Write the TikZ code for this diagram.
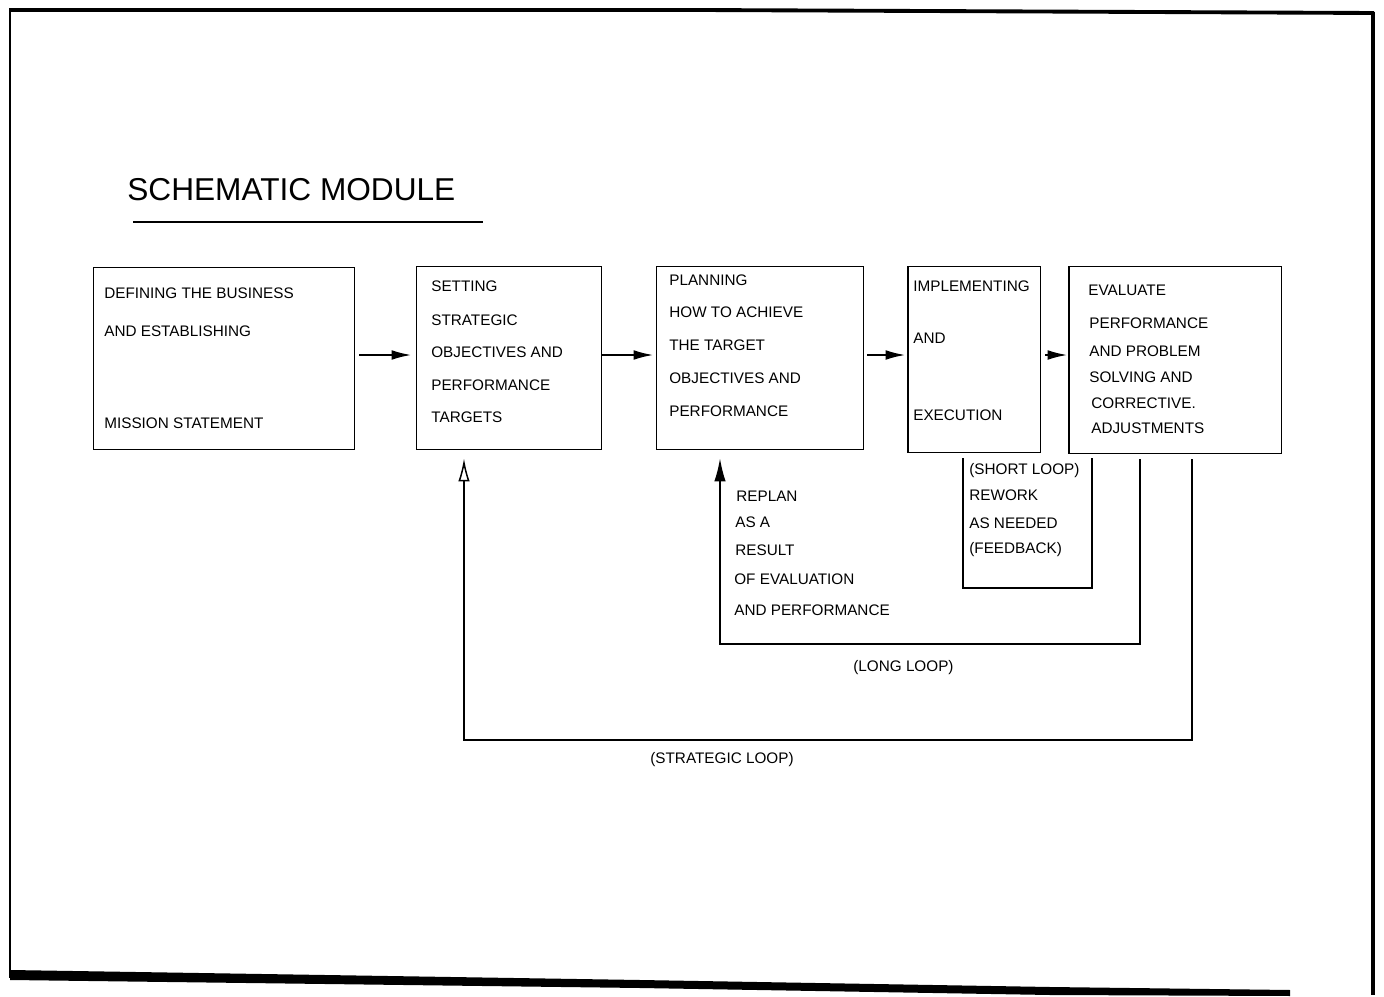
\documentclass[tikz,border=0pt]{standalone}
\usepackage{fontspec}
\setmainfont{Liberation Sans}
\usetikzlibrary{arrows.meta}
\begin{document}
\begin{tikzpicture}[x=0.02cm,y=-0.02cm,
  box/.style={draw,line width=0.85pt,inner sep=0pt,anchor=north west},
  lbl/.style={anchor=base west,inner sep=0pt,font=\fontsize{8.7}{10}\selectfont},
  ttl/.style={anchor=base west,inner sep=0pt,font=\fontsize{18}{20}\selectfont},
  wire/.style={line width=0.85pt},
  fwd/.style={wire,-{Latex[length=11pt,width=5.5pt]}},
  back/.style={wire,-{Latex[length=13pt,width=6.5pt]}},
  backopen/.style={wire,-{Latex[open,length=13pt,width=6.5pt]}},
]
\useasboundingbox (0,0) rectangle (1384,997);

% page frame
\draw[line width=2.2pt] (9,10) -- (700,10) -- (1374,13);
\draw[line width=1.5pt] (10,10) -- (10,978);
\draw[line width=1.8pt] (1373,12) -- (1373,995);
\fill (10,970) -- (640,980) -- (1050,987) -- (1290,990) -- (1290,996)
      -- (1050,995) -- (640,988) -- (10,980) -- cycle;

% title
\node[ttl] (title) at (127,200) {SCHEMATIC MODULE};
\draw[line width=0.7pt] (133,222) -- (483,222);

% process boxes
\node[box,minimum width=5.22cm,minimum height=3.64cm] (b1) at (93,267) {};
\node[box,minimum width=3.70cm,minimum height=3.66cm] (b2) at (416,266) {};
\node[box,minimum width=4.14cm,minimum height=3.66cm] (b3) at (656,266) {};
\node[box,minimum width=2.66cm,minimum height=3.72cm] (b4) at (907,266) {};
\node[box,minimum width=4.26cm,minimum height=3.74cm] (b5) at (1068,266) {};

% box texts
\node[lbl] (t1a) at (104,298) {DEFINING THE BUSINESS};
\node[lbl] (t1b) at (104,337) {AND ESTABLISHING};
\node[lbl] (t1c) at (104,428) {MISSION STATEMENT};

\node[lbl] (t2a) at (431,292) {SETTING};
\node[lbl] (t2b) at (431,325) {STRATEGIC};
\node[lbl] (t2c) at (431,357) {OBJECTIVES AND};
\node[lbl] (t2d) at (431,390) {PERFORMANCE};
\node[lbl] (t2e) at (431,422) {TARGETS};

\node[lbl] (t3a) at (669,285) {PLANNING};
\node[lbl] (t3b) at (669,317) {HOW TO ACHIEVE};
\node[lbl] (t3c) at (669,350) {THE TARGET};
\node[lbl] (t3d) at (669,383) {OBJECTIVES AND};
\node[lbl] (t3e) at (669,416) {PERFORMANCE};

\node[lbl] (t4a) at (913,292) {IMPLEMENTING};
\node[lbl] (t4b) at (913,343) {AND};
\node[lbl] (t4c) at (913,420) {EXECUTION};

\node[lbl] (t5a) at (1088,295.5) {EVALUATE};
\node[lbl] (t5b) at (1089,328) {PERFORMANCE};
\node[lbl] (t5c) at (1089,356.5) {AND PROBLEM};
\node[lbl] (t5d) at (1089,382) {SOLVING AND};
\node[lbl] (t5e) at (1091,408) {CORRECTIVE.};
\node[lbl] (t5f) at (1091,433) {ADJUSTMENTS};

% forward flow
\draw[fwd,shorten <=0.08cm,shorten >=0.1cm] (b1.east |- 0,355) -- (b2.west |- 0,355);
\draw[fwd,shorten >=0.06cm] (b2.east |- 0,355) -- (b3.west |- 0,355);
\draw[fwd,shorten <=0.06cm,shorten >=0.04cm] (b3.east |- 0,355) -- (b4.west |- 0,355);
\draw[fwd,shorten <=0.08cm,shorten >=0.02cm] (b4.east |- 0,355) -- (b5.west |- 0,355);

% short loop
\draw[wire] (963,458) -- (963,588) -- (1092,588) -- (1092,458);
\node[lbl] (s1) at (969,474.5) {(SHORT LOOP)};
\node[lbl] (s2) at (969,500) {REWORK};
\node[lbl] (s3) at (969,528) {AS NEEDED};
\node[lbl] (s4) at (969,553) {(FEEDBACK)};

% long loop
\draw[back,shorten <=0.1cm,shorten >=0.16cm]
  (b5.south -| 1140,0) -- (1140,644) -- (720,644) -- (b3.south -| 720,0);
\node[lbl] (r1) at (736,501.5) {REPLAN};
\node[lbl] (r2) at (735,527.5) {AS A};
\node[lbl] (r3) at (735,555) {RESULT};
\node[lbl] (r4) at (734,584) {OF EVALUATION};
\node[lbl] (r5) at (734,615.5) {AND PERFORMANCE};
\node[lbl] (ll) at (853,671.5) {(LONG LOOP)};

% strategic loop
\draw[backopen,shorten <=0.1cm,shorten >=0.16cm]
  (b5.south -| 1192,0) -- (1192,740) -- (464,740) -- (b2.south -| 464,0);
\node[lbl] (sl) at (650,763) {(STRATEGIC LOOP)};
\end{tikzpicture}
\end{document}
